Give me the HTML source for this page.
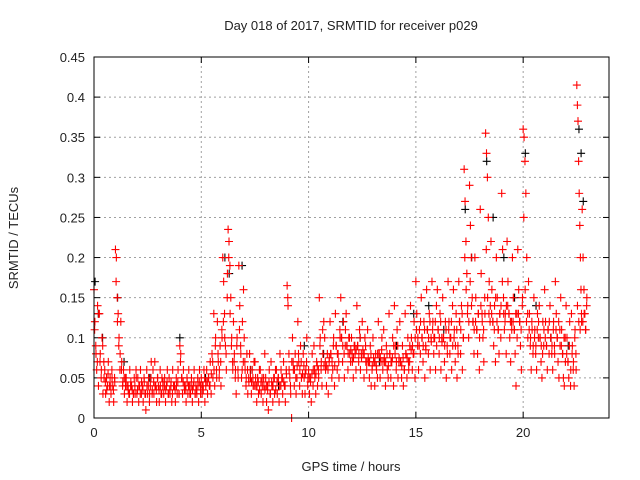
<!DOCTYPE html>
<html><head><meta charset="utf-8"><style>
body{margin:0;background:#fff;}
svg{display:block;font-family:"Liberation Sans",sans-serif;}
</style></head><body>
<svg id="chart" width="640" height="480" viewBox="0 0 640 480" xmlns="http://www.w3.org/2000/svg">
<rect width="640" height="480" fill="#fff"/>
<text x="351" y="30" font-size="13" text-anchor="middle" fill="#222">Day 018 of 2017, SRMTID for receiver p029</text>
<text x="351" y="471" font-size="13" text-anchor="middle" fill="#222">GPS time / hours</text>
<text transform="translate(18,238) rotate(-90)" font-size="13" text-anchor="middle" fill="#222">SRMTID / TECUs</text>
<g id="grid"></g><g id="ticks"></g><g id="marks"></g>
<rect x="94" y="57" width="515" height="361" fill="none" stroke="#000" stroke-width="1"/>
</svg>
<script>
const xTicks=[0,5,10,15,20];
const yTicks=[0,0.05,0.1,0.15,0.2,0.25,0.3,0.35,0.4,0.45];
const yTickLabels=["0","0.05","0.1","0.15","0.2","0.25","0.3","0.35","0.4","0.45"];
const binStart=[0,0.25,0.5,0.75,1,1.25,1.5,1.75,2,2.25,2.5,2.75,3,3.25,3.5,3.75,4,4.25,4.5,4.75,5,5.25,5.5,5.75,6,6.25,6.5,6.75,7,7.25,7.5,7.75,8,8.25,8.5,8.75,9,9.25,9.5,9.75,10,10.25,10.5,10.75,11,11.25,11.5,11.75,12,12.25,12.5,12.75,13,13.25,13.5,13.75,14,14.25,14.5,14.75,15,15.25,15.5,15.75,16,16.25,16.5,16.75,17,17.25,17.5,17.75,18,18.25,18.5,18.75,19,19.25,19.5,19.75,20,20.25,20.5,20.75,21,21.25,21.5,21.75,22,22.25,22.5,22.75];
const redValues=[
[.16,.12,.09,.06,.14,.04],[.13,.08,.05,.1,.03,.07],[.06,.03,.05,.04,.07,.02],[.05,.03,.06,.04,.02,.05],
[.21,.2,.15,.13,.1,.06],[.12,.07,.04,.06,.03,.05],[.05,.02,.04,.03,.06,.04],[.04,.02,.03,.05,.03,.06],
[.03,.05,.02,.04,.06,.03],[.04,.02,.05,.03,.01,.06],[.03,.05,.02,.04,.07,.03],[.06,.03,.07,.04,.02,.05],
[.04,.02,.06,.03,.05,.04],[.03,.05,.02,.04,.06,.03],[.05,.03,.04,.02,.06,.04],[.04,.02,.05,.03,.06,.03],
[.09,.08,.05,.03,.06,.04],[.04,.02,.05,.03,.06,.04],[.03,.05,.02,.04,.06,.03],[.04,.03,.05,.02,.06,.04],
[.05,.03,.04,.06,.02,.04],[.06,.03,.05,.04,.07,.03],[.08,.05,.13,.04,.1,.06],[.12,.07,.05,.09,.04,.11],
[.2,.17,.13,.09,.06,.15],[.235,.22,.19,.15,.1,.07],[.12,.08,.05,.03,.1,.06],[.19,.14,.09,.05,.12,.07],
[.1,.06,.04,.08,.03,.05],[.08,.05,.03,.06,.04,.07],[.07,.04,.02,.05,.03,.06],[.06,.03,.05,.02,.04,.08],
[.05,.02,.04,.01,.06,.03],[.07,.04,.02,.05,.03,.06],[.06,.03,.05,.02,.08,.04],[.05,.03,.07,.04,.02,.06],
[.165,.14,.08,.05,.03,0],[.1,.06,.04,.08,.03,.05],[.12,.07,.04,.09,.05,.03],[.08,.05,.03,.06,.1,.04],
[.06,.03,.05,.02,.08,.04],[.09,.05,.03,.07,.04,.06],[.15,.1,.06,.04,.08,.12],[.1,.06,.04,.08,.03,.07],
[.12,.08,.05,.06,.1,.04],[.13,.09,.06,.08,.05,.11],[.15,.1,.07,.12,.05,.09],[.13,.09,.06,.1,.08,.07],
[.1,.07,.05,.09,.08,.06],[.14,.09,.07,.11,.06,.08],[.12,.08,.05,.1,.07,.06],[.11,.07,.05,.09,.04,.06],
[.1,.07,.04,.08,.06,.05],[.12,.08,.05,.07,.1,.06],[.11,.07,.04,.09,.06,.05],[.13,.08,.05,.07,.1,.04],
[.14,.09,.06,.11,.05,.07],[.12,.07,.05,.09,.04,.06],[.13,.08,.05,.1,.06,.07],[.14,.1,.06,.08,.12,.05],
[.17,.13,.09,.06,.11,.08],[.15,.1,.07,.12,.05,.09],[.16,.11,.08,.13,.06,.1],[.17,.12,.08,.1,.06,.14],
[.16,.11,.08,.13,.06,.1],[.15,.1,.07,.12,.05,.09],[.17,.12,.08,.1,.06,.14],[.16,.11,.07,.13,.05,.09],
[.17,.12,.08,.14,.06,.1],[.31,.27,.22,.18,.14,.1],[.29,.24,.2,.15,.12,.08],[.2,.15,.11,.08,.13,.06],
[.26,.18,.13,.1,.07,.15],[.355,.33,.3,.25,.17,.12],[.22,.16,.12,.09,.14,.07],[.2,.15,.11,.08,.13,.1],
[.28,.21,.15,.11,.13,.08],[.22,.17,.13,.1,.07,.12],[.2,.15,.11,.08,.04,.13],[.21,.16,.12,.09,.06,.14],
[.36,.35,.32,.28,.2,.13],[.17,.13,.09,.06,.11,.08],[.15,.11,.08,.06,.13,.1],[.14,.1,.07,.05,.12,.09],
[.16,.12,.09,.06,.11,.08],[.14,.1,.08,.06,.12,.09],[.17,.13,.1,.07,.05,.11],[.15,.11,.08,.05,.04,.1],
[.14,.1,.07,.05,.12,.04],[.13,.09,.06,.04,.11,.08],[.415,.39,.37,.32,.28,.24,.2,.16,.12],[.26,.2,.16,.13,.11,.14]
];
const redCore=[
[.11,.08,.07,.13],[.07,.06,.09,.05],[.045,.035,.055,.04],[.04,.05,.035,.045],
[.17,.12,.09,.08],[.06,.045,.05,.04],[.04,.035,.03,.045],[.035,.03,.04,.05],
[.035,.04,.03,.045],[.035,.045,.03,.04],[.04,.03,.05,.035],[.045,.04,.035,.05],
[.035,.04,.03,.045],[.04,.035,.045,.03],[.035,.045,.03,.04],[.035,.04,.045,.03],
[.07,.05,.045,.035],[.035,.045,.04,.03],[.04,.035,.045,.03],[.035,.04,.045,.03],
[.04,.035,.05,.045],[.045,.05,.04,.055],[.07,.06,.09,.05],[.08,.06,.07,.1],
[.12,.1,.08,.18],[.2,.13,.09,.06],[.07,.06,.09,.05],[.11,.08,.06,.16],
[.07,.05,.06,.045],[.06,.045,.05,.04],[.05,.04,.045,.035],[.045,.04,.05,.035],
[.04,.035,.045,.03],[.045,.04,.05,.035],[.045,.05,.04,.06],[.05,.045,.04,.055],
[.15,.06,.04,.07],[.07,.06,.05,.065],[.08,.06,.07,.055],[.065,.055,.07,.05],
[.05,.045,.055,.06],[.06,.055,.065,.05],[.09,.07,.11,.065],[.07,.065,.06,.075],
[.08,.07,.09,.065],[.09,.08,.07,.1],[.1,.09,.08,.11],[.09,.08,.1,.085],
[.08,.075,.09,.085],[.09,.08,.1,.075],[.085,.08,.09,.07],[.075,.07,.08,.065],
[.075,.07,.065,.08],[.08,.075,.085,.07],[.075,.07,.08,.065],[.08,.07,.075,.09],
[.08,.07,.09,.075],[.07,.065,.075,.06],[.08,.075,.07,.09],[.085,.09,.08,.1],
[.11,.1,.09,.12],[.1,.09,.11,.085],[.11,.1,.12,.095],[.11,.1,.12,.09],
[.11,.1,.12,.095],[.1,.09,.11,.08],[.11,.1,.12,.09],[.1,.09,.11,.08],
[.12,.11,.13,.1],[.2,.16,.13,.12],[.17,.14,.12,.11],[.12,.11,.13,.1],
[.14,.12,.11,.13],[.21,.15,.13,.14],[.13,.12,.11,.15],[.12,.11,.13,.14],
[.17,.13,.12,.14],[.14,.13,.12,.11],[.12,.11,.13,.1],[.13,.12,.11,.15],
[.25,.16,.12,.1],[.11,.1,.12,.09],[.1,.09,.11,.12],[.1,.09,.08,.11],
[.1,.09,.11,.12],[.1,.09,.11,.08],[.11,.1,.12,.09],[.09,.08,.1,.07],
[.08,.07,.09,.06],[.08,.07,.1,.06],[.14,.12,.11,.13],[.12,.13,.11,.15]
];
const blackTimes=[0.05,0.2,0.4,1.1,1.4,2.6,4.0,5.2,6.1,6.3,6.9,7.3,8.6,9.8,10.7,11.6,12.4,13.3,14.1,14.9,15.6,16.3,17.3,17.6,18.3,18.6,19.1,19.6,20.1,20.6,21.3,22.1,22.6,22.7,22.8];
const blackValues=[0.17,0.13,0.1,0.15,0.07,0.05,0.1,0.05,0.2,0.18,0.19,0.06,0.04,0.09,0.08,0.12,0.1,0.07,0.09,0.13,0.14,0.11,0.26,0.2,0.32,0.25,0.2,0.15,0.33,0.14,0.1,0.09,0.36,0.33,0.27];

const X0=94,X1=609,Y0=418,Y1=57,XMAX=24,YMAX=0.45;
const xs=t=>X0+(X1-X0)*t/XMAX;
const ys=v=>Y0-(Y0-Y1)*v/YMAX;
const NS='http://www.w3.org/2000/svg';
const grid=document.getElementById('grid'),ticks=document.getElementById('ticks'),marks=document.getElementById('marks');
function mk(tag,attrs,parent){const e=document.createElementNS(NS,tag);for(const k in attrs)e.setAttribute(k,attrs[k]);parent.appendChild(e);return e;}
xTicks.forEach(t=>{
  const x=xs(t);
  if(t>0){const g=mk('line',{x1:x,y1:Y0,x2:x,y2:Y1,stroke:'#a0a0a0','stroke-dasharray':'2,3'},grid);
  
  }
  mk('line',{x1:x,y1:Y0,x2:x,y2:Y0-6,stroke:'#000'},ticks);
  mk('line',{x1:x,y1:Y1,x2:x,y2:Y1+6,stroke:'#000'},ticks);
  const l=mk('text',{x:x,y:Y0+19,'font-size':13,'text-anchor':'middle',fill:'#222'},ticks);
  l.textContent=String(t);
  
  
});
yTicks.forEach((v,i)=>{
  const y=ys(v);
  if(v>0&&v<YMAX){const g=mk('line',{x1:X0,y1:y,x2:X1,y2:y,stroke:'#a0a0a0','stroke-dasharray':'2,3'},grid);
  
  }
  mk('line',{x1:X0,y1:y,x2:X0+6,y2:y,stroke:'#000'},ticks);
  mk('line',{x1:X1,y1:y,x2:X1-6,y2:y,stroke:'#000'},ticks);
  const l=mk('text',{x:X0-9,y:y+5,'font-size':13,'text-anchor':'end',fill:'#222'},ticks);
  l.textContent=yTickLabels[i];
  
  
});
function plus(t,v,color,name){
  const x=xs(t),y=ys(v);
  const p=mk('path',{d:`M${x-4},${y}h8M${x},${y-4}v8`,stroke:color,'stroke-width':1.1,fill:'none'},marks);
  
  
}
blackTimes.forEach((t,i)=>plus(t,blackValues[i],'#000','black-point'));
binStart.forEach((t,b)=>{
  const vals=redValues[b];
  vals.forEach((v,k)=>plus(t+0.25*k/vals.length,v,'#ff0000','red-point'));
  const core=redCore[b];
  core.forEach((v,k)=>plus(t+0.03+0.25*k/core.length,v,'#ff0000','red-point'));
});
</script>
</body></html>
